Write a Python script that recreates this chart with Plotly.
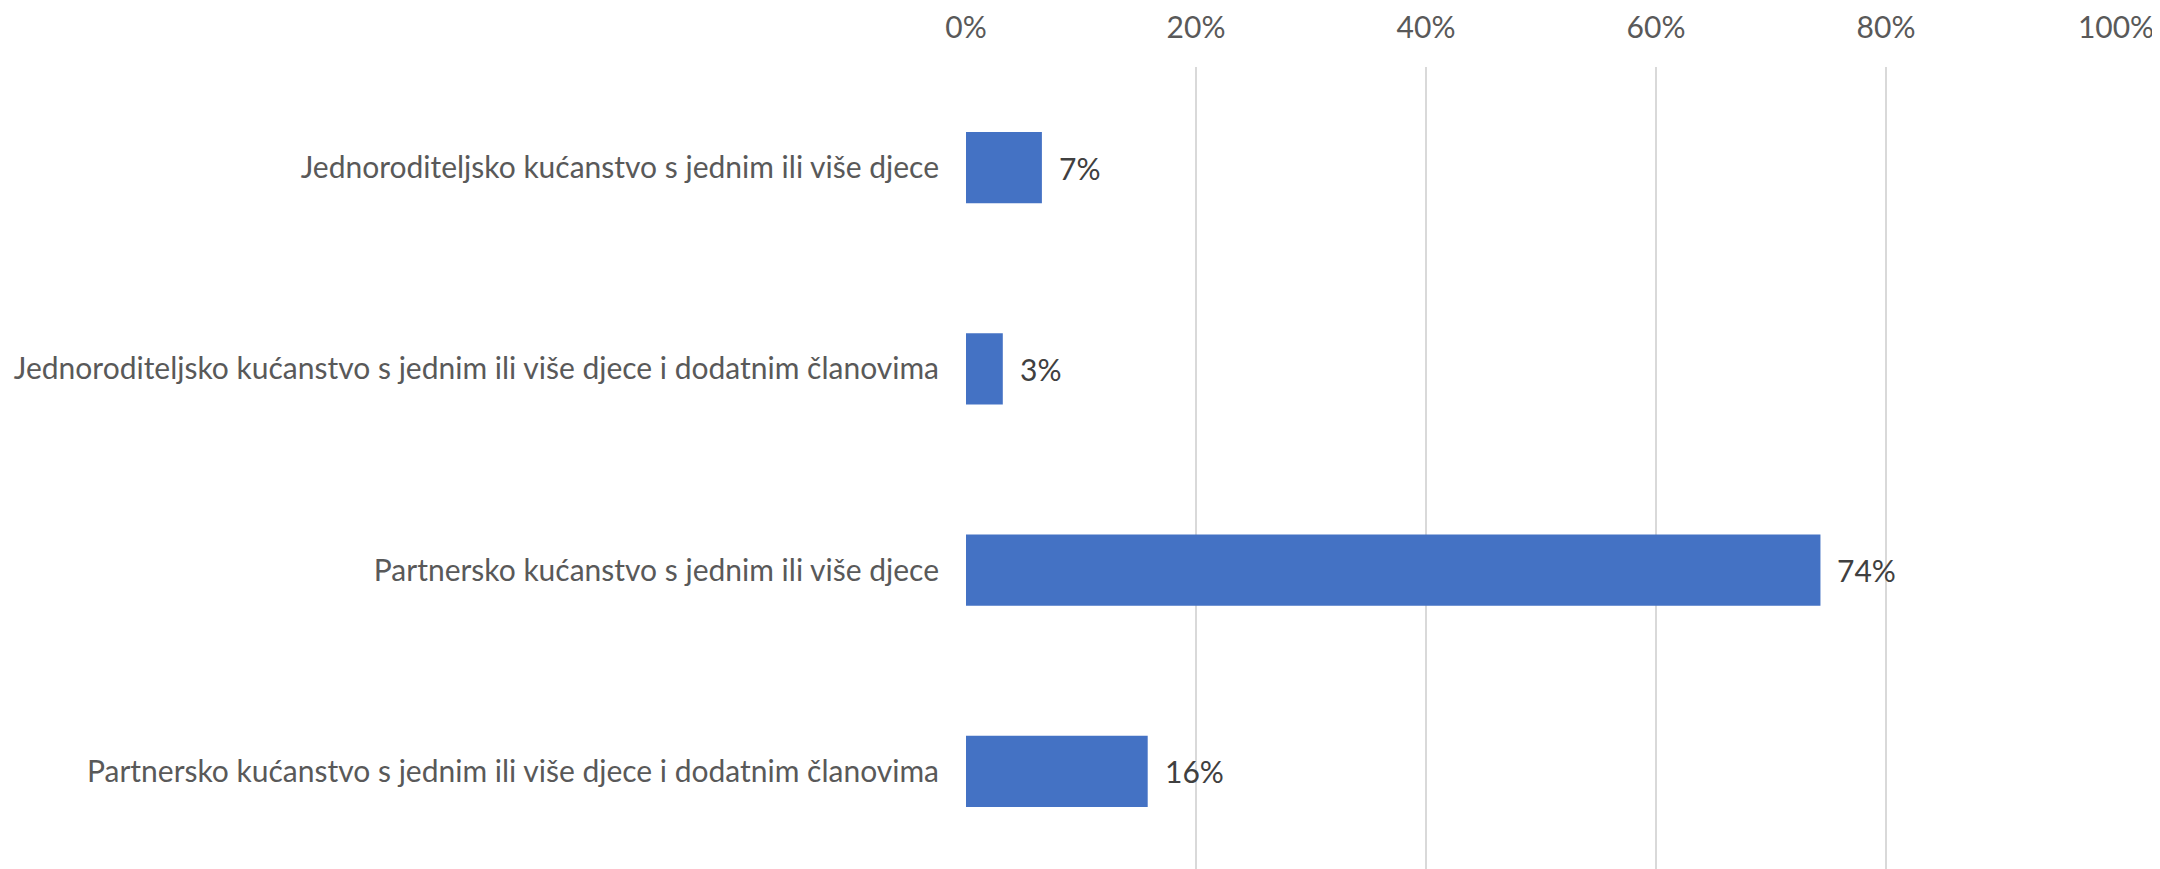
import plotly.graph_objects as go

categories = [
    "Jednoroditeljsko kućanstvo s jednim ili više djece",
    "Jednoroditeljsko kućanstvo s jednim ili više djece i dodatnim članovima",
    "Partnersko kućanstvo s jednim ili više djece",
    "Partnersko kućanstvo s jednim ili više djece i dodatnim članovima",
]
values = [6.6, 3.2, 74.3, 15.8]
value_labels = ["7%", "3%", "74%", "16%"]
tick_vals = [0, 20, 40, 60, 80, 100]
tick_text = ["0%", "20%", "40%", "60%", "80%", "100%"]

FONT = "Lato, sans-serif"

fig = go.Figure()
fig.add_trace(go.Bar(
    y=categories, x=values, orientation="h",
    marker=dict(color="#4472C4", line=dict(width=0)),
    hoverinfo="skip",
))
for c, v, t in zip(categories, values, value_labels):
    fig.add_annotation(x=v, y=c, text=t, showarrow=False, xanchor="left",
                       xshift=15, font=dict(family=FONT, size=30, color="#404040"))

fig.update_layout(
    width=2160, height=869,
    margin=dict(l=958, r=52, t=59, b=5),
    paper_bgcolor="white", plot_bgcolor="white",
    bargap=0.647, showlegend=False,
    font=dict(family=FONT, size=30, color="#595959"),
    xaxis=dict(side="top", range=[0, 100], tickvals=tick_vals, ticktext=tick_text,
               showgrid=True, gridcolor="#d9d9d9", gridwidth=2, zeroline=False,
               showline=False, ticks="", ticklabelstandoff=22, automargin=False,
               tickfont=dict(family=FONT, size=30, color="#595959")),
    yaxis=dict(autorange="reversed", showgrid=False, showline=False, ticks="",
               ticklabelstandoff=26, automargin=False,
               tickfont=dict(family=FONT, size=30, color="#595959")),
)
fig.write_html("out.html")
